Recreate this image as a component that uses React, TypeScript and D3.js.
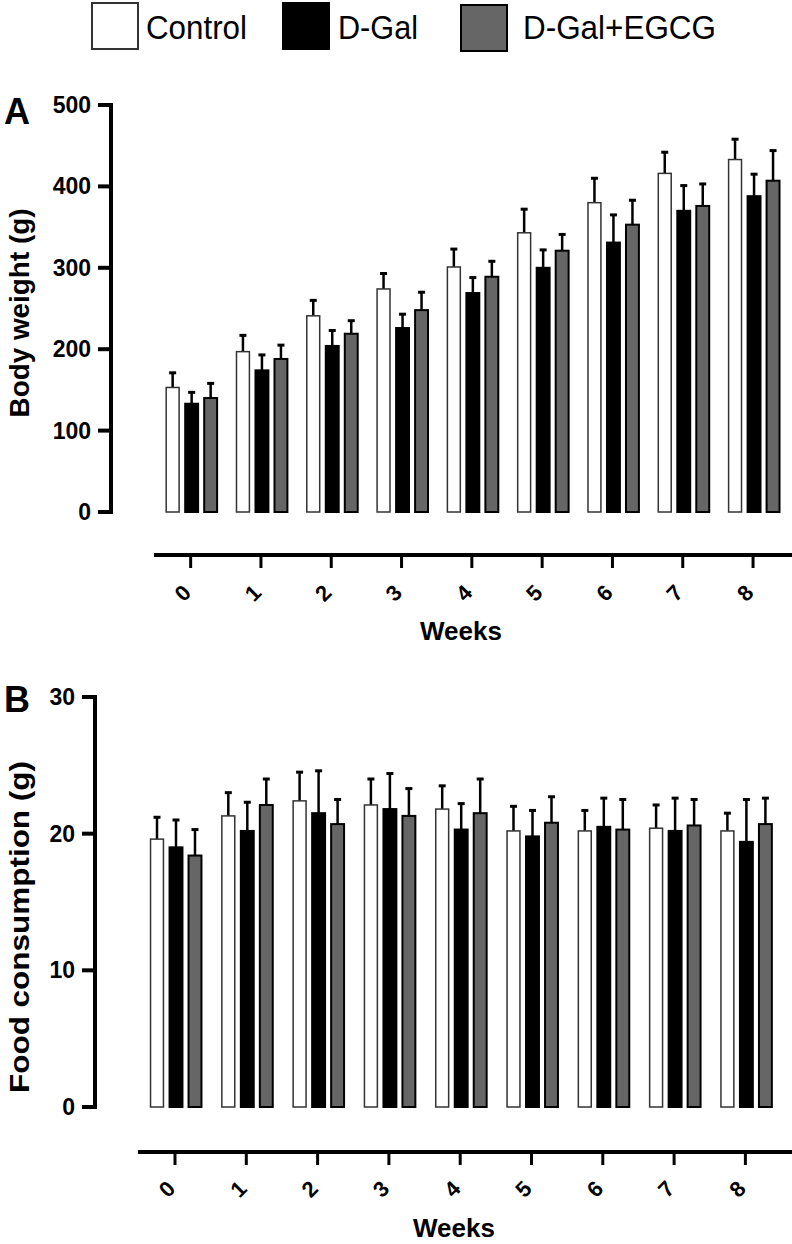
import React from "react";
import * as d3 from "d3";

const weeks = ["0", "1", "2", "3", "4", "5", "6", "7", "8"];
const groups = ["Control", "D-Gal", "D-Gal+EGCG"];

// Body weight (g), mean and SD per group
const weightControl = [153, 197, 241, 274, 301, 343, 380, 416, 433];
const weightControlSd = [18, 20, 19, 19, 22, 29, 30, 26, 25];
const weightDGal = [133, 174, 204, 226, 269, 300, 331, 370, 388];
const weightDGalSd = [14, 19, 19, 17, 19, 22, 34, 31, 27];
const weightEgcg = [140, 188, 219, 248, 289, 321, 353, 376, 407];
const weightEgcgSd = [18, 17, 16, 22, 19, 20, 30, 27, 37];
const weightTicks = [0, 100, 200, 300, 400, 500];

// Food consumption (g), mean and SD per group
const foodControl = [19.6, 21.3, 22.4, 22.1, 21.8, 20.2, 20.2, 20.4, 20.2];
const foodControlSd = [1.6, 1.7, 2.1, 1.9, 1.7, 1.8, 1.5, 1.7, 1.3];
const foodDGal = [19.0, 20.2, 21.5, 21.8, 20.3, 19.8, 20.5, 20.2, 19.4];
const foodDGalSd = [2.0, 2.1, 3.1, 2.6, 1.9, 1.9, 2.1, 2.4, 3.1];
const foodEgcg = [18.4, 22.1, 20.7, 21.3, 21.5, 20.8, 20.3, 20.6, 20.7];
const foodEgcgSd = [1.9, 1.9, 1.8, 2.0, 2.5, 1.9, 2.2, 1.9, 1.9];
const foodTicks = [0, 10, 20, 30];

const fills = ["#ffffff", "#000000", "#666666"];
const strokes = ["#333333", "#000000", "#000000"];
const FONT = "'Liberation Sans', Arial, Helvetica, sans-serif";

type PanelProps = {
  letter: string;
  letterY: number;
  yTitle: string;
  yTitleLen: number;
  yTitleCenter: number;
  means: number[][];
  sds: number[][];
  ticks: number[];
  axisX: number;
  yTop: number;
  yBottom: number;
  xStart: number;
  xLineStart: number;
  step: number;
  xAxisY: number;
  labelY: number;
  weeksY: number;
  weeksX: number;
};

function Panel(p: PanelProps) {
  const max = p.ticks[p.ticks.length - 1];
  const y = d3.scaleLinear().domain([0, max]).range([p.yBottom, p.yTop]);
  const x0 = d3
    .scaleBand<string>()
    .domain(weeks)
    .range([p.xStart, p.xStart + p.step * weeks.length])
    .paddingInner(0)
    .paddingOuter(0);
  const x1 = d3
    .scaleBand<string>()
    .domain(groups)
    .range([-28.5, 28.5])
    .paddingInner(0.32)
    .paddingOuter(0.16);
  const center = (w: string) => (x0(w) ?? 0) + x0.bandwidth() / 2;

  return (
    <g fontFamily={FONT}>
      <text x={4} y={p.letterY} fontSize={36} fontWeight="bold">
        {p.letter}
      </text>
      <text
        transform={`translate(29,${p.yTitleCenter}) rotate(-90)`}
        textAnchor="middle"
        fontSize={27}
        fontWeight="bold"
        textLength={p.yTitleLen}
        lengthAdjust="spacingAndGlyphs"
      >
        {p.yTitle}
      </text>
      {/* y axis */}
      <line x1={p.axisX} x2={p.axisX} y1={p.yTop - 2} y2={p.yBottom + 2} stroke="#000" strokeWidth={4} />
      {p.ticks.map((t) => (
        <g key={t}>
          <line x1={p.axisX - 13} x2={p.axisX} y1={y(t)} y2={y(t)} stroke="#000" strokeWidth={4} />
          <text
            x={p.axisX - 20}
            y={y(t)}
            dy="0.35em"
            textAnchor="end"
            fontSize={23}
            fontWeight="bold"
          >
            {t}
          </text>
        </g>
      ))}
      {/* bars */}
      {weeks.map((w, i) => (
        <g key={w} transform={`translate(${center(w)},0)`}>
          {groups.map((g, k) => {
            const m = p.means[k][i];
            const sd = p.sds[k][i];
            const bx = (x1(g) ?? 0) + x1.bandwidth() / 2;
            return (
              <g key={g}>
                <line x1={bx} x2={bx} y1={y(m)} y2={y(m + sd)} stroke="#000" strokeWidth={2.5} />
                <line x1={bx - 3.5} x2={bx + 3.5} y1={y(m + sd)} y2={y(m + sd)} stroke="#000" strokeWidth={3} />
                <rect
                  x={bx - x1.bandwidth() / 2}
                  y={y(m)}
                  width={x1.bandwidth()}
                  height={y(0) - y(m)}
                  fill={fills[k]}
                  stroke={strokes[k]}
                  strokeWidth={k === 0 ? 1.5 : 2}
                />
              </g>
            );
          })}
        </g>
      ))}
      {/* x axis */}
      <line x1={p.xLineStart} x2={792} y1={p.xAxisY} y2={p.xAxisY} stroke="#000" strokeWidth={4} />
      {weeks.map((w) => (
        <g key={w}>
          <line x1={center(w) - 1} x2={center(w) - 1} y1={p.xAxisY} y2={p.xAxisY + 13} stroke="#000" strokeWidth={3} />
          <text
            transform={`translate(${center(w) - 9},${p.labelY}) rotate(-45)`}
            textAnchor="middle"
            dy="0.35em"
            fontSize={22}
            fontWeight="bold"
          >
            {w}
          </text>
        </g>
      ))}
      <text x={p.weeksX} y={p.weeksY} textAnchor="middle" fontSize={26} fontWeight="bold">
        Weeks
      </text>
    </g>
  );
}

export default function App() {
  const legendBoxes = [
    { x: 92, y: 3, tx: 146, len: 101 },
    { x: 283, y: 3, tx: 338, len: 80 },
    { x: 461, y: 5, tx: 523, len: 193 },
  ];
  return (
    <svg
      width={792}
      height={1244}
      style={{ position: "absolute", left: 0, top: 0, background: "#fff" }}
    >
      {/* legend */}
      <g fontFamily={FONT}>
        {groups.map((g, k) => (
          <g key={g}>
            <rect
              x={legendBoxes[k].x}
              y={legendBoxes[k].y}
              width={46}
              height={46}
              fill={fills[k]}
              stroke={strokes[k]}
              strokeWidth={2}
            />
            <text
              x={legendBoxes[k].tx}
              y={39}
              fontSize={33}
              textLength={legendBoxes[k].len}
              lengthAdjust="spacingAndGlyphs"
            >
              {g}
            </text>
          </g>
        ))}
      </g>
      <Panel
        letter="A"
        letterY={124}
        yTitle="Body weight (g)"
        yTitleLen={209}
        yTitleCenter={313}
        means={[weightControl, weightDGal, weightEgcg]}
        sds={[weightControlSd, weightDGalSd, weightEgcgSd]}
        ticks={weightTicks}
        axisX={111}
        yTop={105}
        yBottom={512}
        xStart={156.5}
        xLineStart={154}
        step={70.3}
        xAxisY={555}
        labelY={593}
        weeksY={640}
        weeksX={461}
      />
      <Panel
        letter="B"
        letterY={712}
        yTitle="Food consumption (g)"
        yTitleLen={332}
        yTitleCenter={927}
        means={[foodControl, foodDGal, foodEgcg]}
        sds={[foodControlSd, foodDGalSd, foodEgcgSd]}
        ticks={foodTicks}
        axisX={95}
        yTop={697}
        yBottom={1107}
        xStart={140.35}
        xLineStart={138}
        step={71.3}
        xAxisY={1152}
        labelY={1189}
        weeksY={1237}
        weeksX={454}
      />
    </svg>
  );
}
